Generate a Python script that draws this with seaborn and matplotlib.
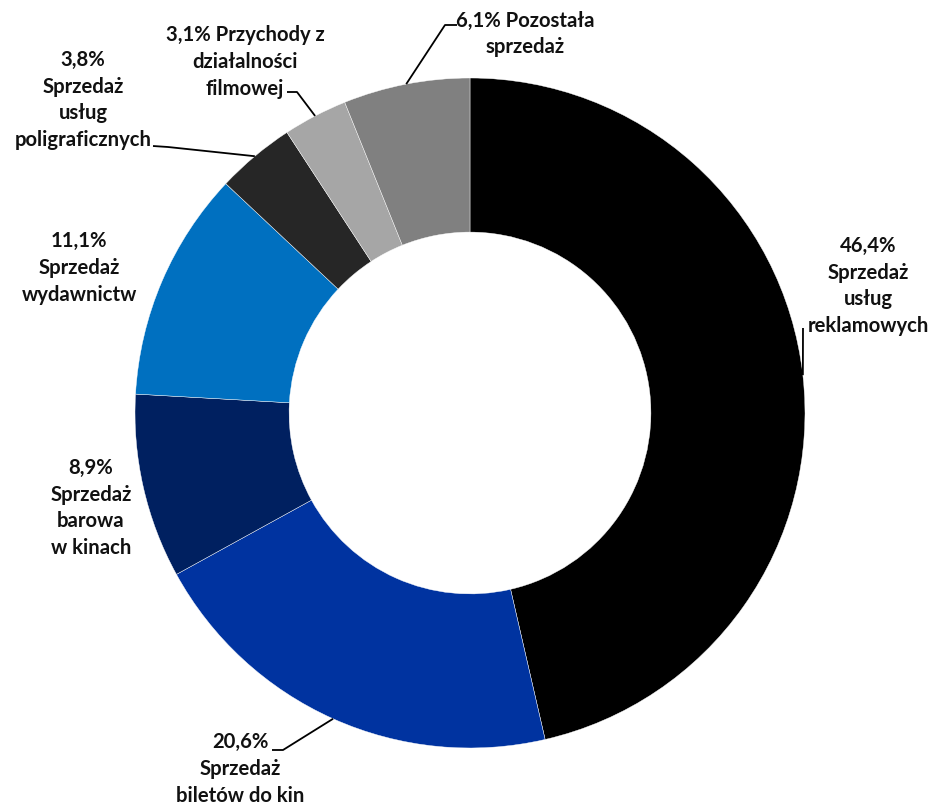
import numpy as np
import matplotlib
matplotlib.use("Agg")
import matplotlib.pyplot as plt
import seaborn as sns

# ---- data ----
shares = [46.4, 20.6, 8.9, 11.1, 3.8, 3.1, 6.1]
share_labels = ["46,4%", "20,6%", "8,9%", "11,1%", "3,8%", "3,1%", "6,1%"]
categories = [
    "Sprzedaż\nusług\nreklamowych",
    "Sprzedaż\nbiletów do kin",
    "Sprzedaż\nbarowa\nw kinach",
    "Sprzedaż\nwydawnictw",
    "Sprzedaż\nusług\npoligraficznych",
    "Przychody z\ndziałalności\nfilmowej",
    "Pozostała\nsprzedaż",
]
colors = ["#000000", "#0033A0", "#002060", "#0070C0", "#262626", "#A6A6A6", "#808080"]

sns.set_theme(style="white")
plt.rcParams["font.family"] = ["Lato", "DejaVu Sans"]

W, H = 932, 807
CX, CY, R = 470, 413, 335

fig = plt.figure(figsize=(W / 100, H / 100), dpi=100)
ax = fig.add_axes([0, 0, 1, 1])


def px(x, y):
    return (x - CX) / R, (CY - y) / R


ax.pie(shares, colors=colors, startangle=90, counterclock=False, radius=1.0,
       wedgeprops=dict(width=0.46, edgecolor="white", linewidth=0.3))
ax.set_aspect("auto")
ax.set_xlim(-CX / R, (W - CX) / R)
ax.set_ylim(-(H - CY) / R, CY / R)
ax.axis("off")

# label text (built from data)
texts = [
    f"{share_labels[0]}\n{categories[0]}",
    f"{share_labels[1]}\n{categories[1]}",
    f"{share_labels[2]}\n{categories[2]}",
    f"{share_labels[3]}\n{categories[3]}",
    f"{share_labels[4]}\n{categories[4]}",
    f"{share_labels[5]} {categories[5]}",
    f"{share_labels[6]} {categories[6]}",
]
label_pos = [(868, 286), (240, 769), (91, 508), (79, 268), (83, 100), (245, 62), (525, 34)]

for t, (x, y) in zip(texts, label_pos):
    ax.text(*px(x, y), t, ha="center", va="center", fontsize=14.6, fontweight="bold",
            color="#111111", linespacing=1.42)

# leader lines: from wedge mid-angle on outer edge to elbow near label
cum = np.cumsum([0] + shares[:-1])
mids = [90 - (c + s / 2) * 3.6 for c, s in zip(cum, shares)]
leaders = {
    0: [(803, 328)],
    1: [(283, 750), (272, 750)],
    4: [(168, 147), (153, 146)],
    5: [(297, 92), (287, 92)],
    6: [(445, 25), (457, 25)],
}
for i, pts in leaders.items():
    a = np.deg2rad(mids[i])
    xs = [np.cos(a)] + [px(*p)[0] for p in pts]
    ys = [np.sin(a)] + [px(*p)[1] for p in pts]
    ax.plot(xs, ys, color="black", lw=1.3, solid_capstyle="butt")

fig.savefig("out.png", dpi=100)
